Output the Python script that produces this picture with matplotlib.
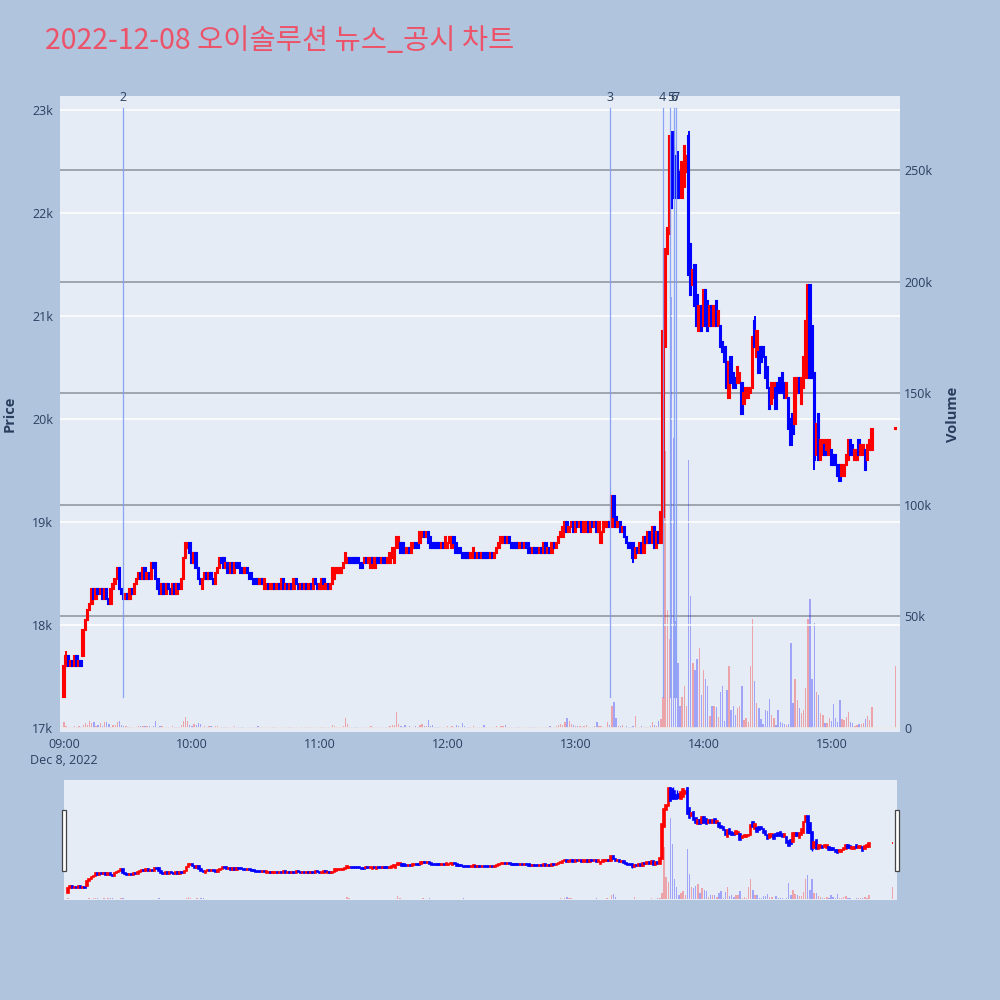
import matplotlib
matplotlib.use("Agg")
import matplotlib.pyplot as plt
from matplotlib.patches import Rectangle
import matplotlib.transforms as mtransforms

plt.rcParams['font.family'] = ['Open Sans', 'DejaVu Sans']

# ---------------- data ----------------
title = "2022-12-08 오이솔루션 뉴스_공시 차트"

# minute index from 09:00 for each candle (09:00 .. 15:19, plus 15:30 close)
bar_minutes = list(range(380)) + [390]

opens = [
    17300, 17600, 17700, 17600, 17650, 17600, 17700, 17600, 17650, 17700,
    17950, 18050, 18150, 18200, 18350, 18250, 18350, 18300, 18350, 18250,
    18350, 18250, 18200, 18350, 18400, 18450, 18550, 18350, 18300, 18250,
    18300, 18250, 18350, 18300, 18400, 18450, 18500, 18450, 18550, 18450,
    18500, 18450, 18600, 18600, 18450, 18350, 18300, 18400, 18300, 18400,
    18350, 18300, 18400, 18300, 18400, 18350, 18450, 18650, 18750, 18800,
    18700, 18600, 18700, 18550, 18450, 18350, 18450, 18500, 18450, 18500,
    18450, 18400, 18500, 18550, 18650, 18650, 18550, 18600, 18500, 18600,
    18500, 18600, 18600, 18550, 18550, 18500, 18550, 18500, 18500, 18450,
    18450, 18450, 18400, 18450, 18350, 18350, 18400, 18350, 18350, 18400,
    18350, 18400, 18350, 18450, 18350, 18400, 18350, 18400, 18350, 18450,
    18400, 18350, 18400, 18350, 18400, 18350, 18400, 18350, 18450, 18400,
    18350, 18350, 18450, 18350, 18400, 18350, 18400, 18450, 18500, 18500,
    18500, 18550, 18600, 18600, 18650, 18650, 18650, 18650, 18650, 18600,
    18600, 18600, 18650, 18600, 18550, 18650, 18550, 18650, 18650, 18600,
    18650, 18650, 18600, 18600, 18650, 18600, 18750, 18750, 18800, 18800,
    18750, 18700, 18750, 18700, 18750, 18800, 18800, 18800, 18850, 18900,
    18850, 18900, 18850, 18800, 18800, 18800, 18800, 18750, 18800, 18750,
    18750, 18800, 18750, 18850, 18800, 18750, 18750, 18700, 18700, 18700,
    18700, 18650, 18650, 18700, 18650, 18700, 18650, 18700, 18700, 18700,
    18650, 18700, 18650, 18700, 18750, 18800, 18800, 18850, 18800, 18850,
    18800, 18800, 18800, 18800, 18750, 18800, 18750, 18800, 18800, 18750,
    18700, 18750, 18750, 18700, 18750, 18700, 18800, 18700, 18750, 18700,
    18800, 18750, 18800, 18850, 18850, 18950, 19000, 18900, 18950, 19000,
    18900, 19000, 18950, 19000, 18900, 18900, 19000, 18900, 19000, 18950,
    19000, 18900, 18800, 18900, 18950, 18950, 19000, 18950, 19250, 19050,
    18950, 19000, 18900, 18950, 18850, 18800, 18800, 18800, 18650, 18750,
    18700, 18800, 18700, 18850, 18800, 18900, 18800, 18950, 18750, 18900,
    18800, 19050, 20700, 21600, 21800, 22750, 22650, 22550, 22350, 22400,
    22150, 22250, 22400, 22750, 21700, 21300, 21500, 21200, 20850, 21100,
    20900, 21250, 21150, 20900, 21100, 20900, 21150, 20900, 20900, 20750,
    20700, 20550, 20200, 20600, 20450, 20400, 20350, 20350, 20350, 20150,
    20200, 20200, 20250, 20300, 20950, 20600, 20650, 20700, 20700, 20600,
    20500, 20300, 20150, 20200, 20300, 20350, 20400, 20450, 20350, 20200,
    20200, 20000, 20050, 19950, 20250, 20400, 20150, 20300, 20400, 20950,
    21300, 20900, 20450, 19650, 20050, 19600, 19650, 19750, 19700, 19650,
    19700, 19650, 19650, 19550, 19550, 19450, 19450, 19550, 19600, 19800,
    19750, 19600, 19600, 19800, 19650, 19650, 19700, 19600, 19700, 19700,
    19900,
]

closes = [
    17600, 17700, 17600, 17650, 17600, 17700, 17600, 17650, 17600, 17950,
    18050, 18150, 18200, 18350, 18250, 18350, 18300, 18350, 18250, 18350,
    18250, 18200, 18350, 18400, 18450, 18550, 18350, 18300, 18250, 18300,
    18250, 18350, 18300, 18400, 18450, 18500, 18450, 18550, 18450, 18500,
    18450, 18600, 18550, 18450, 18350, 18300, 18400, 18300, 18400, 18350,
    18300, 18400, 18300, 18400, 18350, 18450, 18650, 18800, 18800, 18700,
    18600, 18700, 18550, 18450, 18400, 18450, 18500, 18450, 18500, 18450,
    18400, 18500, 18550, 18650, 18600, 18550, 18600, 18500, 18600, 18500,
    18600, 18550, 18550, 18500, 18500, 18550, 18500, 18450, 18450, 18400,
    18400, 18400, 18450, 18400, 18450, 18400, 18350, 18400, 18400, 18350,
    18400, 18350, 18450, 18350, 18400, 18350, 18400, 18350, 18450, 18400,
    18350, 18400, 18350, 18400, 18350, 18400, 18350, 18450, 18400, 18350,
    18400, 18450, 18400, 18400, 18350, 18400, 18550, 18550, 18550, 18550,
    18550, 18600, 18700, 18650, 18600, 18600, 18600, 18600, 18600, 18550,
    18550, 18650, 18600, 18650, 18650, 18600, 18650, 18600, 18600, 18650,
    18600, 18600, 18650, 18700, 18750, 18750, 18850, 18850, 18700, 18700,
    18700, 18750, 18700, 18800, 18800, 18750, 18750, 18900, 18900, 18850,
    18900, 18800, 18750, 18750, 18750, 18750, 18750, 18800, 18750, 18850,
    18800, 18850, 18850, 18800, 18700, 18700, 18700, 18650, 18650, 18650,
    18650, 18700, 18750, 18650, 18700, 18650, 18700, 18650, 18650, 18650,
    18700, 18650, 18700, 18750, 18800, 18850, 18850, 18800, 18850, 18800,
    18750, 18750, 18750, 18750, 18800, 18750, 18800, 18750, 18700, 18700,
    18750, 18700, 18700, 18750, 18700, 18800, 18700, 18750, 18700, 18800,
    18750, 18800, 18850, 18900, 18950, 19000, 18900, 18950, 19000, 18900,
    19000, 18950, 19000, 18900, 19000, 19000, 18900, 19000, 18950, 19000,
    18900, 19000, 18900, 19000, 19000, 19000, 18950, 19250, 19050, 18950,
    19000, 18900, 18950, 18850, 18800, 18750, 18750, 18650, 18750, 18700,
    18800, 18700, 18850, 18800, 18900, 18800, 18950, 18750, 18900, 18800,
    19100, 20850, 21650, 21850, 22750, 22050, 22150, 22150, 22150, 22200,
    22500, 22650, 22550, 21400, 21200, 21450, 21100, 20900, 21100, 20850,
    21250, 20900, 20850, 21100, 20900, 21100, 20900, 21050, 20700, 20650,
    20550, 20300, 20550, 20350, 20300, 20300, 20500, 20450, 20050, 20250,
    20300, 20300, 20300, 20800, 20700, 20850, 20450, 20550, 20600, 20400,
    20300, 20100, 20350, 20350, 20100, 20250, 20250, 20250, 20200, 20350,
    19900, 19750, 19850, 20400, 20400, 20250, 20400, 20600, 20950, 21300,
    20400, 20400, 19600, 19950, 19600, 19800, 19800, 19650, 19800, 19800,
    19550, 19550, 19550, 19450, 19400, 19550, 19550, 19650, 19800, 19650,
    19650, 19700, 19700, 19650, 19750, 19750, 19500, 19750, 19800, 19900,
    19900,
]

# extra wick extremes (minute index -> price)
wick_high = {1: 17750, 285: 22800, 286: 22800, 288: 22600, 293: 22800,
             324: 21000, 350: 21300}
wick_low = {0: 17300, 267: 18600, 352: 19500, 341: 19750}

# volume in thousands of shares, one per candle
volume_k = [
    2.5, 0.7, 0.4, 0.5, 0.3, 0.7, 0.4, 0.7, 0.3, 1.2,
    2.2, 1.5, 3.0, 2.2, 2.5, 1.0, 1.5, 2.2, 1.0, 2.7,
    2.5, 1.8, 0.6, 1.2, 1.5, 2.5, 3.0, 1.5, 0.8, 0.8,
    0.4, 0.5, 0.5, 0.3, 0.6, 1.0, 0.8, 1.0, 0.9, 1.1,
    1.0, 0.5, 0.8, 3.3, 0.6, 0.8, 0.8, 0.5, 0.4, 0.6,
    0.5, 0.8, 0.4, 0.3, 0.6, 1.2, 3.0, 4.8, 3.0, 1.5,
    1.0, 2.0, 1.2, 2.2, 2.0, 0.6, 0.8, 0.6, 0.7, 0.7,
    0.5, 0.7, 0.8, 0.6, 0.5, 0.4, 0.3, 0.6, 0.4, 0.5,
    1.0, 0.4, 0.3, 0.5, 0.3, 0.2, 0.4, 0.6, 0.3, 0.4,
    0.3, 0.8, 0.3, 0.4, 0.6, 0.5, 0.3, 0.4, 0.3, 0.5,
    0.3, 0.2, 0.6, 0.4, 0.3, 0.3, 0.5, 0.3, 0.6, 0.4,
    0.2, 0.3, 0.4, 0.3, 0.5, 0.3, 0.3, 0.4, 0.5, 0.3,
    0.4, 0.6, 0.3, 0.4, 0.5, 0.3, 1.5, 0.8, 0.6, 0.5,
    0.6, 0.8, 4.5, 2.0, 0.5, 0.4, 0.3, 0.5, 0.3, 0.4,
    0.5, 0.3, 0.6, 0.4, 0.8, 0.3, 0.6, 0.4, 0.3, 0.5,
    0.3, 0.4, 0.6, 1.0, 1.2, 1.5, 7.0, 2.0, 0.8, 0.6,
    1.2, 0.6, 0.8, 0.5, 0.6, 1.0, 0.6, 1.2, 2.0, 0.8,
    1.0, 3.5, 1.0, 1.2, 0.6, 0.5, 0.3, 0.4, 0.6, 0.5,
    0.8, 0.6, 1.0, 0.6, 1.2, 0.8, 0.6, 2.2, 0.8, 0.5,
    0.6, 0.5, 0.8, 0.4, 0.6, 0.5, 0.6, 1.5, 0.5, 0.4,
    0.4, 0.5, 0.6, 0.8, 0.6, 1.0, 0.7, 1.2, 0.5, 0.6,
    0.5, 0.6, 0.4, 0.4, 0.5, 0.4, 0.6, 0.4, 0.5, 0.6,
    0.5, 0.4, 0.4, 0.5, 0.6, 0.5, 0.4, 0.6, 0.8, 0.6,
    0.6, 0.8, 1.2, 2.0, 1.5, 2.5, 4.5, 3.0, 2.0, 1.2,
    0.8, 0.8, 1.0, 0.6, 0.8, 1.2, 0.6, 0.6, 0.5, 0.8,
    2.7, 0.8, 0.8, 0.6, 0.5, 2.7, 1.5, 10.0, 11.7, 4.5,
    1.0, 0.8, 1.5, 0.6, 0.8, 0.5, 0.6, 0.8, 5.4, 0.6,
    0.5, 1.0, 0.6, 0.5, 0.6, 1.0, 2.5, 1.5, 1.0, 3.0,
    4.0, 14, 124, 53, 40, 193, 130, 48, 29, 10,
    14, 19, 10, 120, 59, 29, 26, 31, 36, 15,
    26, 22, 19, 5.5, 10, 10, 9.6, 5, 16, 19,
    3, 17, 28, 8, 10, 6, 9, 10, 19, 3.6,
    4.3, 2.8, 28, 49, 21, 11, 9, 4, 2, 8,
    7.5, 13, 6, 4.5, 1.4, 8, 2.8, 2.4, 2, 1.4,
    2, 38, 11, 22, 12.6, 9, 6.6, 8, 18, 49,
    58, 22, 47, 16, 15, 6.6, 5.8, 2.4, 2.4, 4.4,
    3, 10.6, 4.4, 2.8, 12.6, 3.9, 3.6, 5.1, 7.3, 2.8,
    2.1, 0.9, 1.4, 1.8, 1.8, 2.1, 3.9, 5.4, 3.6, 9.3,
    28,
]

news_labels = ["2", "3", "4", "5", "6", "7"]
news_times = ["09:27:30", "13:16:20", "13:40:50", "13:44:25", "13:46:05", "13:46:55"]

price_ticks = [17000, 18000, 19000, 20000, 21000, 22000, 23000]
price_tick_labels = ["17k", "18k", "19k", "20k", "21k", "22k", "23k"]
vol_ticks = [0, 50000, 100000, 150000, 200000, 250000]
vol_tick_labels = ["0", "50k", "100k", "150k", "200k", "250k"]
time_ticks = ["09:00", "10:00", "11:00", "12:00", "13:00", "14:00", "15:00"]
date_label = "Dec 8, 2022"

# ---------------- helpers ----------------
def to_min(s):
    parts = [int(p) for p in s.split(":")]
    while len(parts) < 3:
        parts.append(0)
    return (parts[0] - 9) * 60 + parts[1] + parts[2] / 60.0

UP = "#FF0000"
DOWN = "#0000FF"
FIG_BG = "#B0C4DE"
PLOT_BG = "#E5ECF6"
TXT = "#2A3F5F"

xlim = (-1.9, 392.2)
plim = (16961, 23136)
vlim = (-1790, 283150)

def draw_candles(ax, lw_body, width, lw_wick):
    for m, o, c in zip(bar_minutes, opens, closes):
        col = UP if c >= o else DOWN
        lo, hi = min(o, c), max(o, c)
        h = wick_high.get(m, hi)
        l = wick_low.get(m, lo)
        if h > hi or l < lo:
            ax.vlines(m, l, h, color=col, lw=lw_wick, zorder=3)
        ax.bar(m, max(hi - lo, 8), bottom=lo, width=width, color=col,
               edgecolor=col, linewidth=lw_body, zorder=3)

def draw_volume(ax, width):
    for m, o, c, v in zip(bar_minutes, opens, closes, volume_k):
        col = UP if c >= o else DOWN
        ax.bar(m, v * 1000, width=width, color=col, alpha=0.3,
               linewidth=0, zorder=2)

# ---------------- figure ----------------
fig = plt.figure(figsize=(10, 10), dpi=100)
fig.patch.set_facecolor(FIG_BG)

L, R = 60 / 1000, 900 / 1000
B, T = 1 - 732 / 1000, 1 - 96 / 1000

# volume axes underneath (carries the background)
ax_v = fig.add_axes([L, B, R - L, T - B])
ax_v.set_facecolor(PLOT_BG)
ax_v.set_xlim(*xlim)
ax_v.set_ylim(*vlim)
ax_v.yaxis.tick_right()
ax_v.set_yticks(vol_ticks)
ax_v.set_yticklabels(vol_tick_labels)
ax_v.set_axisbelow(True)
ax_v.grid(axis="y", color="#8E9199", lw=1.1)
ax_v.grid(axis="x", visible=False)
draw_volume(ax_v, 0.65)
ax_v.tick_params(axis="y", length=0, pad=3, labelsize=9, labelcolor=TXT)
ax_v.tick_params(axis="x", bottom=False, labelbottom=False)
for s in ax_v.spines.values():
    s.set_visible(False)

# price axes on top, transparent
ax_p = fig.add_axes([L, B, R - L, T - B])
ax_p.patch.set_visible(False)
ax_p.set_xlim(*xlim)
ax_p.set_ylim(*plim)
ax_p.set_yticks(price_ticks)
ax_p.set_yticklabels(price_tick_labels)
ax_p.set_axisbelow(True)
ax_p.grid(axis="y", color="white", lw=1.1)
tick_pos = [to_min(t) for t in time_ticks]
ax_p.set_xticks(tick_pos)
ax_p.set_xticklabels([time_ticks[0] + "\n" + date_label] + time_ticks[1:],
                     linespacing=1.35)
ax_p.tick_params(axis="both", length=0, labelsize=9, labelcolor=TXT)
ax_p.tick_params(axis="y", pad=5)
ax_p.tick_params(axis="x", pad=4)
for s in ax_p.spines.values():
    s.set_visible(False)

draw_candles(ax_p, 1.5, 0.7, 1.4)

# news markers
trans = mtransforms.blended_transform_factory(ax_p.transData, ax_p.transAxes)
for lab, t in zip(news_labels, news_times):
    xm = to_min(t)
    ax_p.axvline(xm, ymin=0.055, ymax=0.981, color="#7F9DF5", lw=0.9,
                 alpha=0.9, zorder=4)
    ax_p.text(xm, 0.998, lab, transform=trans, ha="center", va="center",
              fontsize=9, color=TXT, zorder=5)

# titles
fig.text(0.045, 0.959, title, fontsize=20.5, color="#EC5369", va="center",
         ha="left", family=["Noto Sans CJK KR", "DejaVu Sans"])
fig.text(0.010, 1 - 0.414, "Price", rotation=90, va="center", ha="center",
         fontsize=10.5, color=TXT, fontweight="bold")
fig.text(0.953, 1 - 0.414, "Volume", rotation=90, va="center", ha="center",
         fontsize=10.5, color=TXT, fontweight="bold")

# ---------------- range slider ----------------
SL, SR = 64 / 1000, 897 / 1000
SB, ST = 1 - 900 / 1000, 1 - 780 / 1000
ax_sv = fig.add_axes([SL, SB, SR - SL, ST - SB])
ax_sv.set_facecolor(PLOT_BG)
ax_sv.set_xlim(*xlim)
ax_sv.set_ylim(*vlim)
draw_volume(ax_sv, 0.65)
ax_sv.set_xticks([]); ax_sv.set_yticks([])
for s in ax_sv.spines.values():
    s.set_visible(False)

ax_sp = fig.add_axes([SL, SB, SR - SL, ST - SB])
ax_sp.patch.set_visible(False)
ax_sp.set_xlim(*xlim)
ax_sp.set_ylim(*plim)
draw_candles(ax_sp, 1.2, 0.7, 1.0)
ax_sp.set_xticks([]); ax_sp.set_yticks([])
for s in ax_sp.spines.values():
    s.set_visible(False)

for hx in (61.5 / 1000, 894.5 / 1000):
    fig.patches.append(Rectangle((hx, 1 - 871 / 1000), 4 / 1000, 61 / 1000,
                                 transform=fig.transFigure, facecolor="white",
                                 edgecolor="#444444", lw=0.9, zorder=10))

fig.savefig("out.png", dpi=100, facecolor=FIG_BG)
